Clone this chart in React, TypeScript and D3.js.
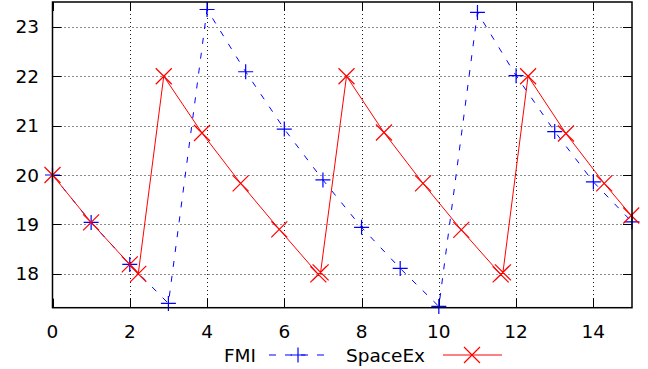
import { useEffect, useRef } from "react";
import * as d3 from "d3";

// FMI series: sampled once per time unit
const fmiX = [0, 1, 2, 3, 4, 5, 6, 7, 8, 9, 10, 11, 12, 13, 14, 15];
const fmiY = [20, 19.04, 18.19, 17.4, 23.35, 22.09, 20.93, 19.9, 18.94, 18.11, 17.34, 23.29, 22.01, 20.88, 19.86, 19.05];

// SpaceEx series: event-driven sample times
const spaceExX = [0, 1, 2, 2.22, 2.88, 3.87, 4.87, 5.87, 6.88, 6.94, 7.61, 8.58, 9.59, 10.58, 11.6, 11.66, 12.31, 13.29, 14.28, 14.98];
const spaceExY = [20, 19.04, 18.19, 18.0, 22.0, 20.85, 19.83, 18.9, 17.99, 18.03, 22.0, 20.86, 19.83, 18.89, 17.99, 18.03, 22.0, 20.84, 19.83, 19.18];

const xTicks = [0, 2, 4, 6, 8, 10, 12, 14];
const yTicks = [18, 19, 20, 21, 22, 23];

const FONT = "DejaVu Sans, sans-serif";

export default function App() {
  const svgRef = useRef<SVGSVGElement>(null);

  useEffect(() => {
    document.body.style.margin = "0";
    if (!svgRef.current) return;
    const width = 648;
    const height = 369;
    const left = 52.5, right = 632, top = 2, bottom = 307.7;

    const svg = d3.select(svgRef.current);
    svg.selectAll("*").remove();

    const x = d3.scaleLinear().domain([0, 15]).range([left, right]);
    const y = d3.scaleLinear().domain([17.314, 23.502]).range([bottom, top]);

    svg.append("rect").attr("width", width).attr("height", height).attr("fill", "#fff");

    // grid
    const grid = svg.append("g").attr("stroke", "#000").attr("stroke-width", 1)
      .attr("stroke-dasharray", "1,3").attr("opacity", 0.9);
    grid.selectAll("line.gx")
      .data(xTicks.filter(t => t > 0))
      .join("line")
      .attr("x1", d => Math.round(x(d)) + 0.5).attr("x2", d => Math.round(x(d)) + 0.5)
      .attr("y1", top).attr("y2", bottom);
    grid.selectAll("line.gy")
      .data(yTicks)
      .join("line")
      .attr("class", "gy")
      .attr("y1", d => Math.round(y(d)) + 0.5).attr("y2", d => Math.round(y(d)) + 0.5)
      .attr("x1", left).attr("x2", right);

    // tick marks (inside, mirrored)
    const ticks = svg.append("g").attr("stroke", "#000").attr("stroke-width", 1);
    xTicks.forEach(t => {
      const px = Math.round(x(t)) + 0.5;
      ticks.append("line").attr("x1", px).attr("x2", px).attr("y1", bottom).attr("y2", bottom - 9);
      ticks.append("line").attr("x1", px).attr("x2", px).attr("y1", top).attr("y2", top + 9);
    });
    yTicks.forEach(t => {
      const py = Math.round(y(t)) + 0.5;
      ticks.append("line").attr("x1", left).attr("x2", left + 9).attr("y1", py).attr("y2", py);
      ticks.append("line").attr("x1", right).attr("x2", right - 9).attr("y1", py).attr("y2", py);
    });

    // tick labels
    svg.append("g").selectAll("text")
      .data(yTicks)
      .join("text")
      .attr("x", 39)
      .attr("y", d => y(d))
      .attr("dy", "0.36em")
      .attr("text-anchor", "end")
      .attr("font-family", FONT)
      .attr("font-size", 18.5)
      .attr("fill", "#000")
      .text(d => d);

    svg.append("g").selectAll("text")
      .data(xTicks)
      .join("text")
      .attr("x", d => x(d))
      .attr("y", 338)
      .attr("text-anchor", "middle")
      .attr("font-family", FONT)
      .attr("font-size", 18.5)
      .attr("fill", "#000")
      .text(d => d);

    const plus = (cx: number, cy: number, r = 7.5) =>
      `M${cx - r},${cy}H${cx + r}M${cx},${cy - r}V${cy + r}`;
    const cross = (cx: number, cy: number, r = 8) =>
      `M${cx - r},${cy - r}L${cx + r},${cy + r}M${cx - r},${cy + r}L${cx + r},${cy - r}`;

    const plot = svg.append("g");

    const line = d3.line<[number, number]>().x(d => x(d[0])).y(d => y(d[1]));
    const fmi = fmiX.map((v, i) => [v, fmiY[i]] as [number, number]);
    const spx = spaceExX.map((v, i) => [v, spaceExY[i]] as [number, number]);

    const blue = "#0000ff";
    const red = "#ff0000";

    plot.append("path")
      .attr("d", line(fmi))
      .attr("fill", "none")
      .attr("stroke", blue)
      .attr("stroke-width", 1)
      .attr("stroke-dasharray", "6,9");
    plot.append("path")
      .attr("d", fmi.map(d => plus(x(d[0]), y(d[1]))).join(""))
      .attr("fill", "none")
      .attr("stroke", blue)
      .attr("stroke-width", 1.2);

    plot.append("path")
      .attr("d", line(spx))
      .attr("fill", "none")
      .attr("stroke", red)
      .attr("stroke-width", 1);
    plot.append("path")
      .attr("d", spx.map(d => cross(x(d[0]), y(d[1]))).join(""))
      .attr("fill", "none")
      .attr("stroke", red)
      .attr("stroke-width", 1.2);

    // frame
    svg.append("rect")
      .attr("x", left).attr("y", top)
      .attr("width", right - left).attr("height", bottom - top)
      .attr("fill", "none").attr("stroke", "#000").attr("stroke-width", 1.5);

    // legend
    const lg = svg.append("g").attr("font-family", FONT).attr("font-size", 18.5).attr("fill", "#000");
    lg.append("text").attr("x", 256).attr("y", 361.5).attr("text-anchor", "end").text("FMI");
    lg.append("line").attr("x1", 269).attr("x2", 326).attr("y1", 355).attr("y2", 355)
      .attr("stroke", blue).attr("stroke-width", 1).attr("stroke-dasharray", "7,9");
    lg.append("path").attr("d", plus(298, 355)).attr("stroke", blue).attr("stroke-width", 1.2).attr("fill", "none");
    lg.append("text").attr("x", 346).attr("y", 361.5).text("SpaceEx");
    lg.append("line").attr("x1", 443).attr("x2", 502).attr("y1", 355).attr("y2", 355)
      .attr("stroke", red).attr("stroke-width", 1);
    lg.append("path").attr("d", cross(472, 355)).attr("stroke", red).attr("stroke-width", 1.2).attr("fill", "none");
  }, []);

  return <svg ref={svgRef} width={648} height={369} style={{ display: "block" }} />;
}
